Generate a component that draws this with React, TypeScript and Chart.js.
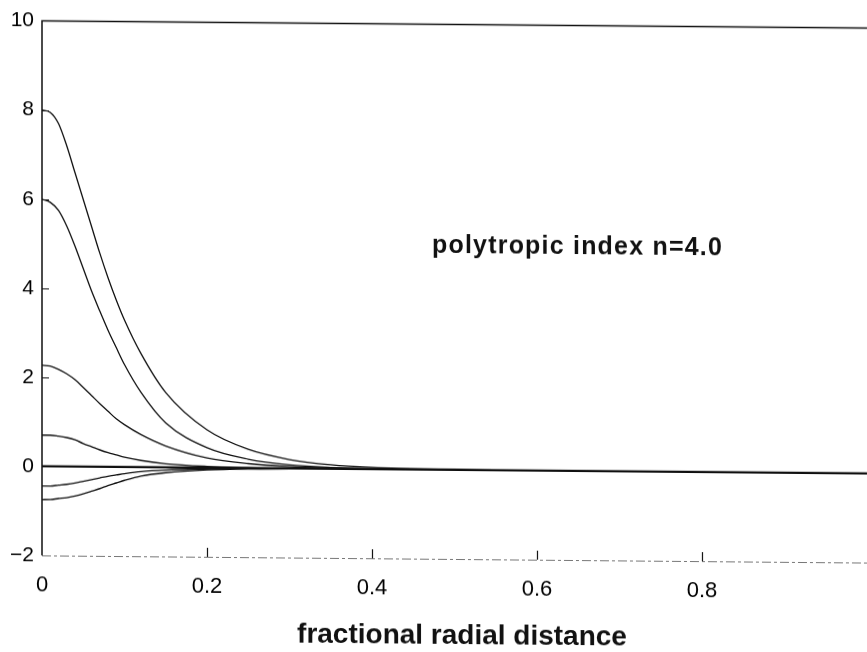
import { useEffect, useRef } from 'react';
import { Chart, registerables } from 'chart.js';

Chart.register(...registerables);

// fractional radial distance sample points
const radius = [0, 0.01, 0.02, 0.03, 0.04, 0.05, 0.06, 0.07, 0.08, 0.09, 0.10, 0.12, 0.15, 0.20, 0.25, 0.30, 0.35, 0.40, 0.50, 0.60, 0.80, 1.00];
const curveA = [8.0, 7.95, 7.7, 7.2, 6.6, 6.0, 5.4, 4.8, 4.25, 3.75, 3.3, 2.55, 1.68, 0.85, 0.42, 0.2, 0.09, 0.04, 0.01, 0, 0, 0];
const curveB = [6.0, 5.93, 5.75, 5.4, 4.95, 4.45, 3.95, 3.5, 3.07, 2.68, 2.3, 1.68, 1.0, 0.45, 0.2, 0.08, 0.03, 0.01, 0, 0, 0, 0];
const curveC = [2.27, 2.25, 2.18, 2.08, 1.95, 1.78, 1.6, 1.42, 1.25, 1.08, 0.95, 0.73, 0.48, 0.22, 0.1, 0.04, 0.02, 0.01, 0, 0, 0, 0];
const curveD = [0.7, 0.7, 0.68, 0.65, 0.6, 0.52, 0.45, 0.38, 0.32, 0.27, 0.22, 0.15, 0.08, 0.03, 0.01, 0, 0, 0, 0, 0, 0, 0];
const curveZero = [0, 0, 0, 0, 0, 0, 0, 0, 0, 0, 0, 0, 0, 0, 0, 0, 0, 0, 0, 0, 0, 0];
const curveE = [-0.44, -0.44, -0.42, -0.4, -0.37, -0.33, -0.29, -0.25, -0.21, -0.18, -0.15, -0.1, -0.06, -0.03, -0.01, 0, 0, 0, 0, 0, 0, 0];
const curveF = [-0.75, -0.745, -0.72, -0.7, -0.66, -0.61, -0.55, -0.49, -0.42, -0.36, -0.3, -0.2, -0.12, -0.05, -0.02, -0.01, 0, 0, 0, 0, 0, 0];

const xTicks = [0, 0.2, 0.4, 0.6, 0.8];
const yTicks = [10, 8, 6, 4, 2, 0, -2];
const xTitle = 'fractional radial distance';
const annotation = 'polytropic index n=4.0';

const FONT = "'Liberation Sans', Arial, Helvetica, sans-serif";

export default function App() {
  const ref = useRef<HTMLCanvasElement | null>(null);

  useEffect(() => {
    const canvas = ref.current;
    if (!canvas) return;

    const mk = (vals: number[], width: number) => ({
      data: radius.map((r, i) => ({ x: r, y: vals[i] })),
      borderColor: '#111',
      borderWidth: width,
      pointRadius: 0,
      fill: false,
      cubicInterpolationMode: 'monotone' as const,
    });

    const deco = {
      id: 'deco',
      afterDraw(chart: any) {
        const { ctx, chartArea, scales } = chart;
        const { left, right, top, bottom } = chartArea;
        const xs = scales.x;
        const ys = scales.y;
        ctx.save();
        // bottom axis (faint dashed)
        ctx.strokeStyle = '#777';
        ctx.lineWidth = 1;
        ctx.setLineDash([9, 3, 3, 3]);
        ctx.beginPath();
        ctx.moveTo(left, bottom + 0.5);
        ctx.lineTo(right, bottom + 0.5);
        ctx.stroke();
        ctx.setLineDash([]);
        // left axis and top border
        ctx.strokeStyle = '#111';
        ctx.lineWidth = 1.5;
        ctx.beginPath();
        ctx.moveTo(left, bottom);
        ctx.lineTo(left, top);
        ctx.lineTo(right, top);
        ctx.stroke();
        // ticks
        ctx.lineWidth = 1.2;
        ctx.beginPath();
        for (const v of xTicks) {
          if (v === 0) continue;
          const px = Math.round(xs.getPixelForValue(v)) + 0.5;
          ctx.moveTo(px, bottom);
          ctx.lineTo(px, bottom - 9);
        }
        for (const v of yTicks) {
          if (v === 10 || v === -2) continue;
          const py = Math.round(ys.getPixelForValue(v)) + 0.5;
          ctx.moveTo(left, py);
          ctx.lineTo(left + 7, py);
        }
        ctx.stroke();
        // annotation
        ctx.fillStyle = '#111';
        ctx.textBaseline = 'alphabetic';
        ctx.textAlign = 'left';
        ctx.font = `bold 25px ${FONT}`;
        (ctx as any).letterSpacing = '1.2px';
        ctx.fillText(annotation, 432, 249);
        // x title
        ctx.textAlign = 'center';
        ctx.font = `bold 28px ${FONT}`;
        (ctx as any).letterSpacing = '0px';
        ctx.fillText(xTitle, 462, 640);
        ctx.restore();
      },
    };

    const chart = new Chart(canvas, {
      type: 'line',
      data: {
        datasets: [
          mk(curveA, 1.3),
          mk(curveB, 1.3),
          mk(curveC, 1.3),
          mk(curveD, 1.4),
          mk(curveZero, 2.2),
          mk(curveE, 1.3),
          mk(curveF, 1.4),
        ],
      },
      options: {
        animation: false,
        responsive: false,
        events: [],
        layout: { padding: { top: 17, right: 0, left: 0, bottom: 0 } },
        plugins: { legend: { display: false }, tooltip: { enabled: false }, title: { display: false } },
        scales: {
          x: {
            type: 'linear',
            min: 0,
            max: 1,
            grid: { display: false, drawTicks: false, tickLength: 0 },
            border: { display: false },
            afterBuildTicks: (scale: any) => {
              scale.ticks = xTicks.map((v) => ({ value: v }));
            },
            afterFit: (scale: any) => {
              scale.height = 97;
            },
            ticks: {
              color: '#000',
              padding: 17,
              maxRotation: 0,
              autoSkip: false,
              font: { family: FONT, size: 22 },
              callback: (v: any) => String(v),
            },
          },
          y: {
            type: 'linear',
            min: -2,
            max: 10,
            grid: { display: false, drawTicks: false, tickLength: 0 },
            border: { display: false },
            afterBuildTicks: (scale: any) => {
              scale.ticks = yTicks.map((v) => ({ value: v }));
            },
            afterFit: (scale: any) => {
              scale.width = 42;
            },
            ticks: {
              color: '#000',
              padding: 8,
              autoSkip: false,
              font: { family: FONT, size: 21 },
              callback: (v: any) => (Number(v) < 0 ? '\u2212' + Math.abs(Number(v)) : String(v)),
            },
          },
        },
      },
      plugins: [deco],
    });

    return () => chart.destroy();
  }, []);

  return (
    <div style={{ position: 'fixed', left: 0, top: 0, width: 867, height: 652, background: '#fff', overflow: 'hidden' }}>
      <canvas
        ref={ref}
        width={867}
        height={652}
        style={{ display: 'block', transform: 'skewY(0.5deg)', transformOrigin: '0 0' }}
      />
    </div>
  );
}
